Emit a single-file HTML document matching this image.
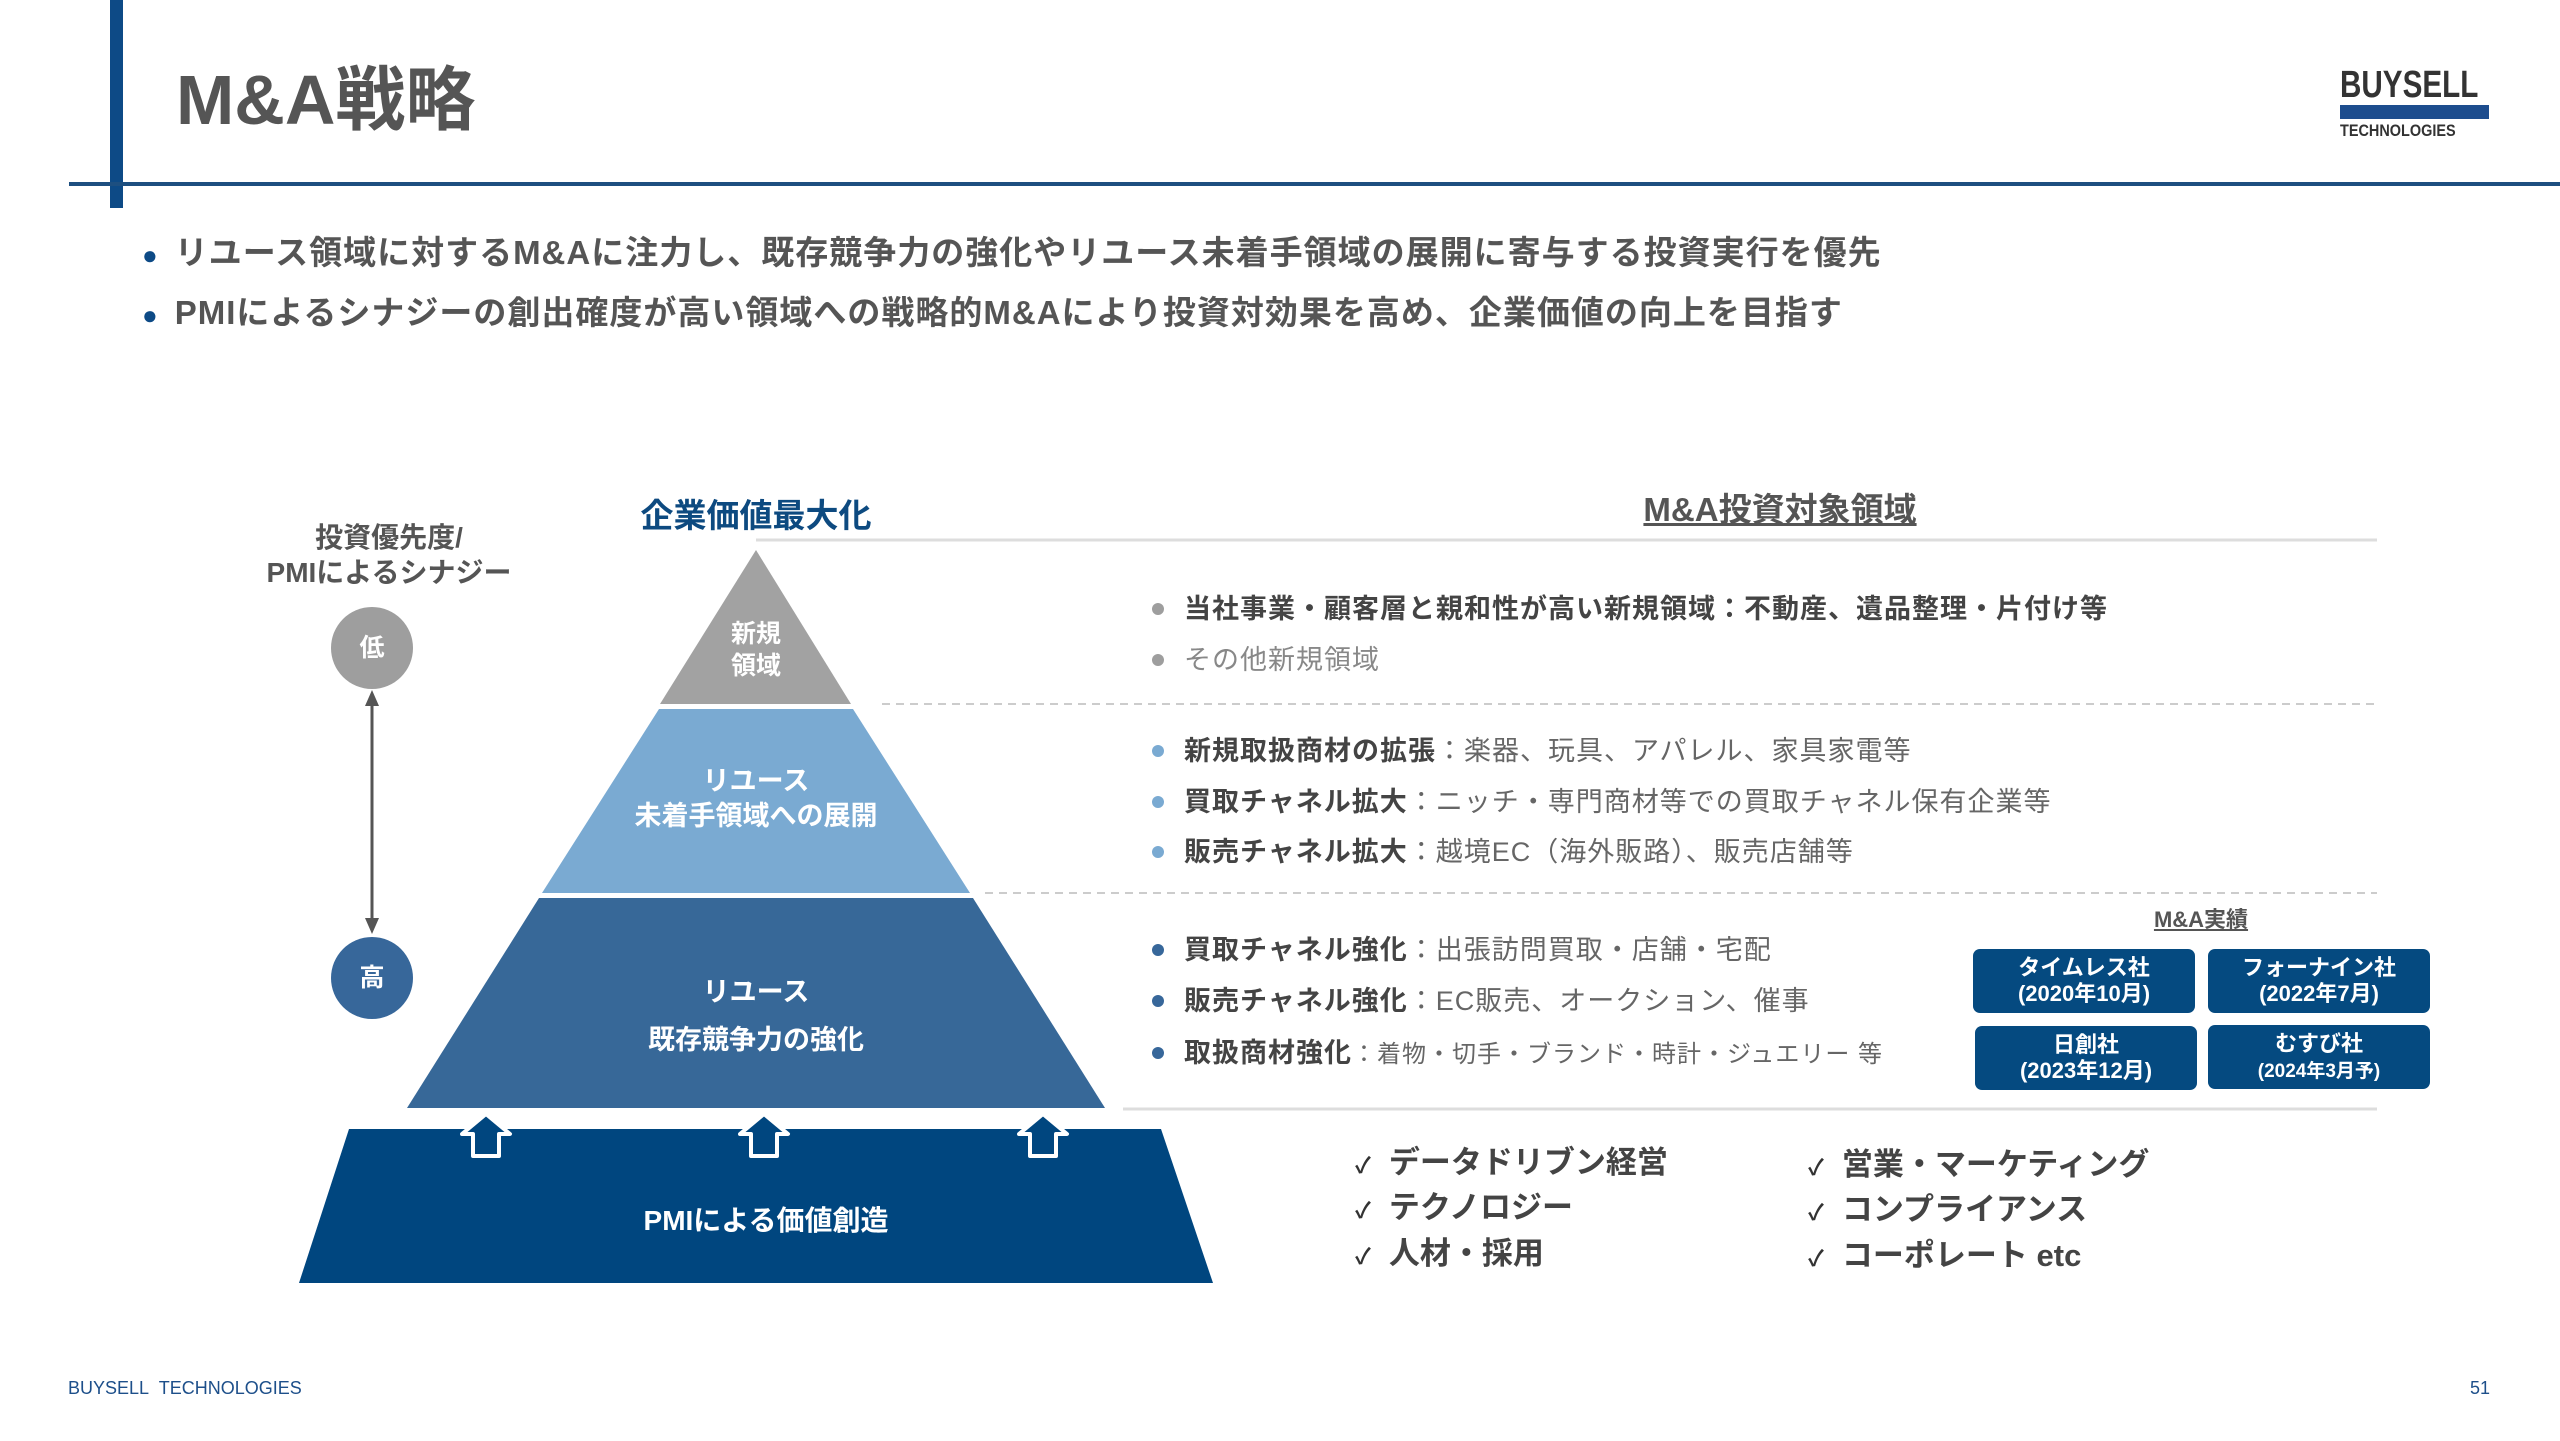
<!DOCTYPE html>
<html><head><meta charset="utf-8">
<style>
*{margin:0;padding:0;box-sizing:border-box}
body{width:2560px;height:1441px;background:#fff;position:relative;overflow:hidden;font-family:"Liberation Sans","Noto Sans CJK JP",sans-serif;color:#444}
.a{position:absolute;white-space:nowrap}
.b{font-weight:bold}
.r{font-size:27px;line-height:34px;letter-spacing:1px}
.r .d{display:inline-block;width:12px;height:12px;border-radius:50%;margin-right:20px;vertical-align:middle;position:relative;top:-2px}
.r .n{font-weight:normal;color:#666}
.box{position:absolute;background:#054a80;border-radius:7px;color:#fff;font-weight:bold;text-align:center;font-size:22px;line-height:26px;padding-top:6px}
.ck{font-size:31px;font-weight:bold;color:#444;line-height:40px}
.ck span{font-size:22px;margin-right:18px;color:#333}
</style></head><body>
<div class="a" style="left:110px;top:0;width:13px;height:208px;background:#0d4a86"></div>
<div class="a" style="left:69px;top:182px;width:2491px;height:4px;background:#1d4f80"></div>
<div class="a b" style="left:176px;top:58px;font-size:70px;line-height:84px;color:#555">M&amp;A戦略</div>
<div class="a b" style="left:2340px;top:66px;font-size:38px;line-height:38px;color:#333;transform:scaleX(0.78);transform-origin:0 0">BUYSELL</div>
<div class="a" style="left:2340px;top:105px;width:149px;height:14px;background:#1d4d8e"></div>
<div class="a b" style="left:2340px;top:122px;font-size:17px;line-height:17px;color:#333;transform:scaleX(0.85);transform-origin:0 0">TECHNOLOGIES</div>

<div class="a b" style="left:142px;top:233px;font-size:33px;line-height:40px;color:#555;letter-spacing:1px"><span style="color:#0d4a86;font-size:26px;margin-right:16px">●</span>リユース領域に対するM&amp;Aに注力し、既存競争力の強化やリユース未着手領域の展開に寄与する投資実行を優先</div>
<div class="a b" style="left:142px;top:293px;font-size:33px;line-height:40px;color:#555;letter-spacing:1px"><span style="color:#0d4a86;font-size:26px;margin-right:16px">●</span>PMIによるシナジーの創出確度が高い領域への戦略的M&amp;Aにより投資対効果を高め、企業価値の向上を目指す</div>

<div class="a b" style="left:239px;top:520px;width:300px;text-align:center;font-size:28px;line-height:35px;color:#555">投資優先度/<br>PMIによるシナジー</div>
<div class="a b" style="left:331px;top:607px;width:82px;height:82px;border-radius:50%;background:#9e9e9e;color:#fff;font-size:25px;line-height:82px;text-align:center">低</div>
<div class="a b" style="left:331px;top:937px;width:82px;height:82px;border-radius:50%;background:#37679a;color:#fff;font-size:25px;line-height:82px;text-align:center">高</div>
<svg class="a" style="left:0;top:0" width="2560" height="1441">
<line x1="372" y1="700" x2="372" y2="922" stroke="#555" stroke-width="3"/>
<polygon points="372,690 365,706 379,706" fill="#555"/>
<polygon points="372,934 365,918 379,918" fill="#555"/>
<polygon points="756,550 851,704 660,704" fill="#a2a2a2"/>
<polygon points="659,709 853,709 970,893 542,893" fill="#7aaad2"/>
<polygon points="539,898 973,898 1105,1108 407,1108" fill="#376898"/>
<polygon points="349,1129 1161,1129 1213,1283 299,1283" fill="#00467f"/>
<g fill="#00467f" stroke="#fff" stroke-width="4" stroke-linejoin="round">
<polygon points="486,1114 510,1134 499,1134 499,1156 473,1156 473,1134 462,1134"/>
<polygon points="764,1114 788,1134 777,1134 777,1156 751,1156 751,1134 740,1134"/>
<polygon points="1043,1114 1067,1134 1056,1134 1056,1156 1030,1156 1030,1134 1019,1134"/>
</g>
<line x1="756" y1="540" x2="2377" y2="540" stroke="#ddd" stroke-width="3"/>
<line x1="882" y1="704" x2="2377" y2="704" stroke="#ccc" stroke-width="2" stroke-dasharray="8,6"/>
<line x1="985" y1="893" x2="2377" y2="893" stroke="#ccc" stroke-width="2" stroke-dasharray="8,6"/>
<line x1="1123" y1="1109" x2="2377" y2="1109" stroke="#ddd" stroke-width="3"/>
</svg>
<div class="a b" style="left:556px;top:496px;width:400px;text-align:center;font-size:33px;line-height:40px;color:#0d4a80">企業価値最大化</div>
<div class="a b" style="left:1580px;top:490px;width:400px;text-align:center;font-size:33px;line-height:40px;color:#555;text-decoration:underline">M&amp;A投資対象領域</div>

<div class="a b" style="left:656px;top:618px;width:200px;text-align:center;font-size:25px;line-height:32px;color:#fff">新規<br>領域</div>
<div class="a b" style="left:556px;top:764px;width:400px;text-align:center;font-size:27px;line-height:35px;color:#fff">リユース<br>未着手領域への展開</div>
<div class="a b" style="left:556px;top:968px;width:400px;text-align:center;font-size:27px;line-height:48px;color:#fff">リユース<br>既存競争力の強化</div>
<div class="a b" style="left:556px;top:1203px;width:420px;text-align:center;font-size:28px;line-height:36px;color:#fff">PMIによる価値創造</div>

<div class="a r b" style="left:1152px;top:592px"><span class="d" style="background:#9e9e9e"></span>当社事業・顧客層と親和性が高い新規領域：不動産、遺品整理・片付け等</div>
<div class="a r" style="left:1152px;top:643px;color:#888"><span class="d" style="background:#9e9e9e"></span>その他新規領域</div>
<div class="a r b" style="left:1152px;top:734px"><span class="d" style="background:#7aaad2"></span>新規取扱商材の拡張<span class="n">：楽器、玩具、アパレル、家具家電等</span></div>
<div class="a r b" style="left:1152px;top:785px"><span class="d" style="background:#7aaad2"></span>買取チャネル拡大<span class="n">：ニッチ・専門商材等での買取チャネル保有企業等</span></div>
<div class="a r b" style="left:1152px;top:835px"><span class="d" style="background:#7aaad2"></span>販売チャネル拡大<span class="n">：越境EC（海外販路）、販売店舗等</span></div>
<div class="a r b" style="left:1152px;top:933px"><span class="d" style="background:#37679a"></span>買取チャネル強化<span class="n">：出張訪問買取・店舗・宅配</span></div>
<div class="a r b" style="left:1152px;top:984px"><span class="d" style="background:#37679a"></span>販売チャネル強化<span class="n">：EC販売、オークション、催事</span></div>
<div class="a r b" style="left:1152px;top:1036px"><span class="d" style="background:#37679a"></span>取扱商材強化<span class="n" style="font-size:24px">：着物・切手・ブランド・時計・ジュエリー 等</span></div>

<div class="a b" style="left:2101px;top:906px;width:200px;text-align:center;font-size:22px;line-height:28px;color:#555;text-decoration:underline">M&amp;A実績</div>
<div class="box" style="left:1973px;top:949px;width:222px;height:64px">タイムレス社<br>(2020年10月)</div>
<div class="box" style="left:2208px;top:949px;width:222px;height:64px">フォーナイン社<br>(2022年7月)</div>
<div class="box" style="left:1975px;top:1026px;width:222px;height:64px">日創社<br>(2023年12月)</div>
<div class="box" style="left:2208px;top:1025px;width:222px;height:64px">むすび社<br><span style="font-size:19px">(2024年3月予)</span></div>

<div class="a ck" style="left:1355px;top:1143px"><span>✓</span>データドリブン経営</div>
<div class="a ck" style="left:1355px;top:1188px"><span>✓</span>テクノロジー</div>
<div class="a ck" style="left:1355px;top:1234px"><span>✓</span>人材・採用</div>
<div class="a ck" style="left:1808px;top:1145px"><span>✓</span>営業・マーケティング</div>
<div class="a ck" style="left:1808px;top:1190px"><span>✓</span>コンプライアンス</div>
<div class="a ck" style="left:1808px;top:1236px"><span>✓</span>コーポレート etc</div>

<div class="a" style="left:68px;top:1377px;font-size:18px;line-height:22px;color:#1d4f8a">BUYSELL&nbsp; TECHNOLOGIES</div>
<div class="a" style="left:2470px;top:1377px;font-size:18px;line-height:22px;color:#1d4f8a">51</div>
</body></html>
